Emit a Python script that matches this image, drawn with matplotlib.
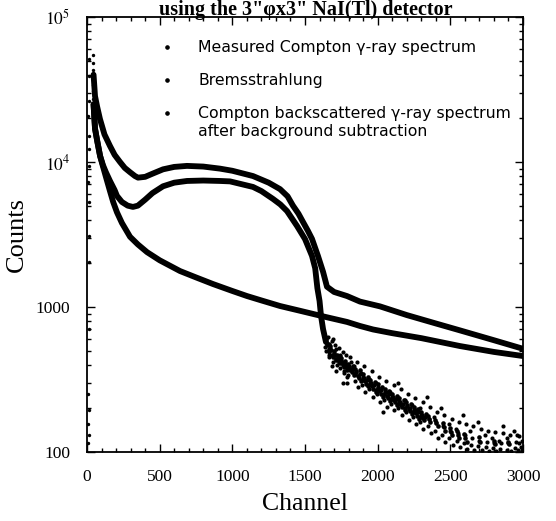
import matplotlib
matplotlib.use('Agg')
import matplotlib.pyplot as plt
import numpy as np
from matplotlib.ticker import FixedLocator, FixedFormatter, MultipleLocator

plt.rcParams['mathtext.fontset'] = 'stix'

meas_ch = [45, 55, 70, 89, 120, 158, 190, 227, 260, 296, 330, 351, 400, 450, 523, 600, 688, 800,
           915, 1000, 1142, 1250, 1328, 1380, 1417, 1455, 1486, 1520, 1548, 1589, 1624, 1651,
           1700, 1789, 1878, 2016, 2200, 2400, 2566, 2800, 3000]
meas_cnt = [40000, 28500, 24000, 19800, 15500, 12900, 11200, 10000, 9100, 8500, 8000, 7800, 7900,
            8300, 8900, 9250, 9400, 9300, 9000, 8700, 8000, 7200, 6500, 5800, 5000, 4400, 3860,
            3350, 2950, 2250, 1750, 1380, 1270, 1190, 1090, 1010, 880, 770, 690, 590, 515]

back_ch = [45, 55, 70, 90, 110, 130, 158, 190, 206, 240, 280, 316, 350, 400, 450, 523, 600, 688,
           800, 915, 984, 1142, 1200, 1280, 1330, 1376, 1445, 1500, 1548, 1570, 1585, 1600, 1610,
           1624, 1644]
back_cnt = [25000, 17000, 14000, 11000, 9500, 8500, 7400, 6400, 5840, 5300, 5000, 4900, 5000,
            5500, 6100, 6800, 7200, 7400, 7450, 7400, 7350, 6730, 6300, 5560, 5100, 4590, 3620,
            2940, 2250, 1850, 1350, 1100, 870, 705, 574]

brems_ch = [45, 55, 70, 90, 110, 130, 158, 180, 206, 240, 296, 350, 413, 500, 640, 750, 867,
            1000, 1101, 1200, 1328, 1450, 1555, 1650, 1789, 1878, 1968, 2100, 2300, 2566, 2800, 3000]
brems_cnt = [25000, 17000, 14000, 11000, 9300, 7900, 6300, 5300, 4500, 3800, 3050, 2700, 2390,
             2100, 1770, 1600, 1440, 1290, 1190, 1110, 1016, 950, 896, 850, 789, 740, 700, 660,
             610, 538, 490, 459]

# subtracted spectrum above the Compton edge: wide spread of points
tail_ch = [1650, 1659, 1643, 1665, 1638, 1675, 1684, 1668, 1690, 1663,
           1700, 1709, 1693, 1715, 1688, 1725, 1734, 1718, 1740, 1713,
           1750, 1759, 1743, 1765, 1738, 1775, 1784, 1768, 1790, 1763,
           1800, 1809, 1793, 1815, 1788, 1850, 1859, 1843, 1865, 1838,
           1900, 1909, 1893, 1915, 1888, 1950, 1959, 1943, 1965, 1938,
           2000, 2009, 1993, 2015, 1988, 2050, 2059, 2043, 2065, 2038,
           2100, 2109, 2093, 2115, 2088, 2150, 2159, 2143, 2165, 2138,
           2200, 2209, 2193, 2215, 2188, 2250, 2259, 2243, 2265, 2238,
           2300, 2309, 2293, 2315, 2288, 2350, 2359, 2343, 2365, 2338,
           2400, 2409, 2393, 2415, 2388, 2450, 2459, 2443, 2465, 2438,
           2500, 2509, 2493, 2515, 2488, 2550, 2559, 2543, 2565, 2538,
           2600, 2609, 2593, 2615, 2588, 2650, 2659, 2643, 2665, 2638,
           2700, 2709, 2693, 2715, 2688, 2750, 2759, 2743, 2765, 2738,
           2800, 2809, 2793, 2815, 2788, 2850, 2859, 2843, 2865, 2838,
           2900, 2909, 2893, 2915, 2888, 2950, 2959, 2943, 2965, 2938,
           2990, 2975, 2983, 2996, 2970]
tail_cnt = [560, 620, 500, 470, 530, 520, 580, 450, 600, 490,
            480, 550, 420, 510, 390, 450, 520, 400, 470, 360,
            430, 490, 380, 350, 460, 410, 470, 360, 330, 300,
            390, 450, 340, 420, 300, 360, 420, 310, 280, 390,
            330, 390, 290, 260, 350, 300, 360, 270, 240, 320,
            280, 330, 250, 220, 300, 260, 310, 230, 205, 190,
            240, 290, 215, 195, 260, 225, 270, 200, 180, 300,
            210, 250, 190, 165, 230, 195, 235, 175, 155, 210,
            180, 220, 160, 145, 200, 170, 205, 150, 135, 240,
            160, 190, 140, 125, 175, 150, 180, 130, 118, 200,
            140, 170, 125, 112, 155, 135, 160, 120, 108, 145,
            130, 155, 115, 105, 180, 125, 150, 112, 104, 140,
            120, 145, 110, 103, 160, 118, 140, 108, 102, 130,
            115, 138, 106, 101, 125, 115, 135, 105, 150, 120,
            115, 132, 104, 102, 125, 118, 130, 106, 103, 140,
            120, 128, 108, 104, 115]

# dense core of the same cloud
core_ch = [1654, 1647, 1662, 1641, 1679, 1672, 1687, 1666, 1704, 1697, 1712, 1691,
           1729, 1722, 1737, 1716, 1754, 1747, 1762, 1741, 1779, 1772, 1787, 1766,
           1804, 1797, 1812, 1791, 1825, 1829, 1820, 1835, 1854, 1847, 1862, 1841,
           1875, 1880, 1870, 1885, 1904, 1897, 1912, 1891, 1925, 1930, 1920, 1935,
           1954, 1947, 1962, 1941, 1975, 1980, 1970, 1985, 2004, 2000, 2012, 1991,
           2025, 2030, 2020, 2035, 2054, 2047, 2062, 2041, 2075, 2080, 2070, 2085,
           2104, 2097, 2112, 2091, 2125, 2130, 2120, 2135, 2154, 2147, 2162, 2141,
           2175, 2180, 2170, 2185, 2204, 2197, 2212, 2191, 2225, 2230, 2220, 2235,
           2254, 2247, 2262, 2241, 2275, 2280, 2270, 2285, 2304, 2297, 2312, 2291,
           2325, 2330, 2320, 2354, 2347, 2362, 2404, 2397, 2412, 2454, 2447, 2462,
           2504, 2497, 2512, 2554, 2547, 2562, 2604, 2597, 2612, 2704, 2697, 2804,
           2797, 2904, 2897]
core_cnt = [545, 575, 515, 600, 505, 540, 470, 555, 465, 500, 440, 455,
            440, 470, 415, 430, 420, 445, 400, 410, 400, 425, 380, 385,
            385, 405, 365, 370, 375, 395, 355, 340, 355, 375, 335, 345,
            345, 365, 325, 310, 325, 345, 310, 315, 315, 330, 295, 285,
            300, 315, 285, 290, 290, 305, 270, 260, 275, 295, 262, 268,
            268, 282, 250, 240, 258, 272, 245, 250, 250, 262, 235, 225,
            238, 252, 228, 232, 232, 245, 220, 210, 222, 236, 212, 216,
            215, 228, 205, 195, 208, 220, 198, 202, 202, 214, 192, 183,
            194, 205, 185, 188, 188, 198, 178, 170, 180, 190, 172, 175,
            174, 184, 165, 168, 178, 160, 158, 166, 150, 148, 158, 140,
            138, 147, 130, 130, 140, 124, 125, 134, 118, 118, 126, 114,
            120, 113, 118]

# stray points at the very first channels
spike_ch = [40, 41, 42, 40, 43, 41, 44, 42, 12, 11, 12, 10, 12, 11, 12, 10, 12, 11, 12, 11]
spike_cnt = [55000, 48000, 43000, 38000, 34000, 31000, 27000, 24000,
             51000, 39000, 26300, 20700, 15100, 12300, 9400, 7300, 5300, 3100, 2050, 700]
low_ch = [10, 11, 10, 11, 10]
low_cnt = [250, 195, 155, 130, 115]

y_ticks = [100, 1000, 1e4, 1e5]
y_labels = ['100', '1000', r'$10^4$', r'$10^5$']
x_ticks = [0, 500, 1000, 1500, 2000, 2500, 3000]

fig = plt.figure(figsize=(5.56, 5.21), dpi=100)
ax = fig.add_axes([0.1565, 0.1324, 0.7842, 0.835])

for xs, ys in [(meas_ch, meas_cnt), (back_ch, back_cnt), (brems_ch, brems_cnt)]:
    ax.plot(xs, ys, color='black', lw=4.2, solid_capstyle='round', solid_joinstyle='round')
ax.scatter(tail_ch, tail_cnt, s=9, color='black', lw=0)
ax.scatter(core_ch, core_cnt, s=11, color='black', lw=0)
ax.scatter(spike_ch, spike_cnt, s=6, color='black', lw=0)
ax.scatter(low_ch, low_cnt, s=6, color='black', lw=0, clip_on=False)

ax.set_yscale('log')
ax.set_xlim(0, 3000)
ax.set_ylim(100, 1e5)
ax.yaxis.set_major_locator(FixedLocator(y_ticks))
ax.yaxis.set_major_formatter(FixedFormatter(y_labels))
ax.xaxis.set_major_locator(FixedLocator(x_ticks))
ax.xaxis.set_minor_locator(MultipleLocator(100))
ax.tick_params(which='both', direction='in', top=True, right=True, width=1, color='black')
ax.tick_params(which='major', length=6, pad=12, labelsize=12.5)
ax.tick_params(which='minor', length=3)
for lab in ax.get_xticklabels() + ax.get_yticklabels():
    lab.set_family('Liberation Serif')
for s in ax.spines.values():
    s.set_linewidth(1.3)

ax.set_xlabel('Channel', family='Liberation Serif', fontsize=18.5, labelpad=6)
ax.set_ylabel('Counts', family='Liberation Serif', fontsize=19, labelpad=6)

fig.text(0.55, 1 - 15 / 521, 'using the 3"\u03c6x3" NaI(Tl) detector', family='Liberation Serif',
         fontweight='bold', fontsize=14.5, ha='center', va='baseline')

# legend drawn by hand like the original
leg_txt = ['Measured Compton \u03b3-ray spectrum', 'Bremsstrahlung',
           'Compton backscattered \u03b3-ray spectrum', 'after background subtraction']
leg_y = [52, 85, 118, 136]
leg_dot = [True, True, True, False]
for txt, ypx, dot in zip(leg_txt, leg_y, leg_dot):
    fig.text(198 / 556, 1 - ypx / 521, txt, family='DejaVu Sans', fontsize=11.3,
             ha='left', va='baseline')
    if dot:
        ax.plot([167 / 556], [1 - (ypx - 5) / 521], 'o', ms=2.3, color='black',
                transform=fig.transFigure, clip_on=False)

fig.savefig('out.png', dpi=100)
